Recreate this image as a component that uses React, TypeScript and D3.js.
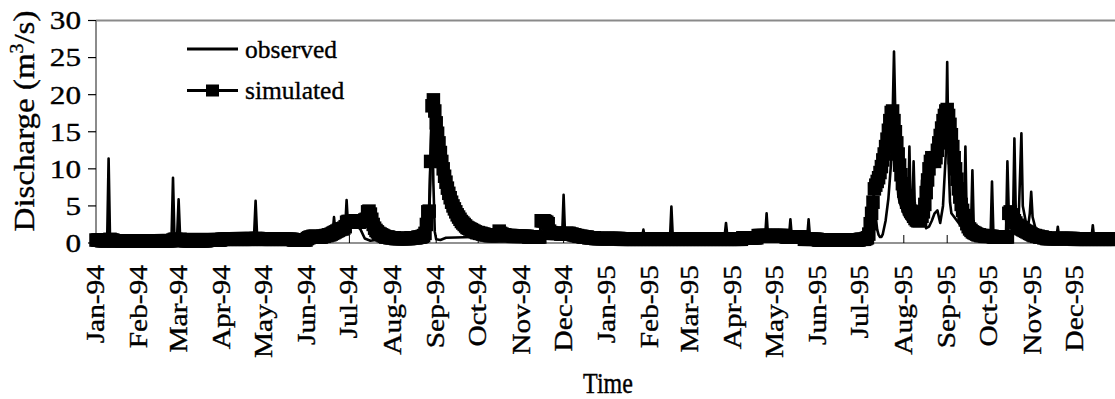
import * as d3 from "d3";

// simulated discharge, one value per day (m3/s)
const sim1994 = [
  0.4, 0.4, 0.4, 0.4, 0.3, 0.3, 0.3, 0.3, 0.3, 0.4,
  0.5, 0.4, 0.4, 0.3, 0.3, 0.3, 0.3, 0.3, 0.3, 0.3,
  0.3, 0.3, 0.3, 0.3, 0.3, 0.3, 0.3, 0.3, 0.3, 0.3,
  0.3, 0.3, 0.3, 0.3, 0.3, 0.3, 0.3, 0.3, 0.3, 0.3,
  0.3, 0.3, 0.3, 0.3, 0.3, 0.3, 0.3, 0.3, 0.3, 0.3,
  0.3, 0.3, 0.3, 0.3, 0.3, 0.4, 0.5, 0.5, 0.4, 0.4,
  0.5, 0.4, 0.4, 0.3, 0.3, 0.3, 0.3, 0.3, 0.3, 0.3,
  0.3, 0.3, 0.3, 0.3, 0.3, 0.3, 0.3, 0.3, 0.3, 0.3,
  0.4, 0.4, 0.4, 0.4, 0.4, 0.4, 0.4, 0.4, 0.4, 0.4,
  0.5, 0.5, 0.5, 0.5, 0.5, 0.5, 0.5, 0.5, 0.5, 0.5,
  0.5, 0.5, 0.5, 0.5, 0.5, 0.5, 0.5, 0.5, 0.5, 0.5,
  0.5, 0.5, 0.5, 0.5, 0.6, 0.6, 0.6, 0.5, 0.5, 0.5,
  0.5, 0.5, 0.5, 0.5, 0.5, 0.5, 0.5, 0.5, 0.5, 0.5,
  0.5, 0.5, 0.5, 0.5, 0.5, 0.5, 0.5, 0.5, 0.5, 0.5,
  0.5, 0.4, 0.4, 0.4, 0.4, 0.4, 0.4, 0.4, 0.4, 0.4,
  0.4, 0.6, 0.7, 0.8, 0.8, 0.9, 0.9, 0.9, 0.8, 0.8,
  0.8, 0.8, 0.9, 0.9, 1.0, 1.0, 1.1, 1.1, 1.2, 1.3,
  1.4, 1.5, 1.6, 1.7, 1.8, 1.9, 1.9, 2.0, 2.2, 2.8,
  2.9, 2.9, 2.8, 2.8, 2.9, 3.0, 2.9, 2.8, 2.8, 2.9,
  3.0, 3.0, 3.1, 3.2, 4.2, 4.3, 3.9, 3.2, 2.5, 2.0,
  1.7, 1.5, 1.3, 1.2, 1.1, 1.0, 0.9, 0.8, 0.8, 0.8,
  0.7, 0.7, 0.7, 0.7, 0.6, 0.6, 0.6, 0.6, 0.6, 0.6,
  0.6, 0.6, 0.6, 0.6, 0.6, 0.7, 0.7, 0.7, 0.7, 0.7,
  0.8, 0.8, 0.8, 0.9, 1.0, 1.3, 2.5, 4.2, 4.3, 11.0,
  18.5, 19.3, 17.8, 16.2, 14.8, 13.5, 12.2, 11.0, 10.0, 9.0,
  8.2, 7.4, 6.7, 6.1, 5.5, 5.0, 4.6, 4.2, 3.8, 3.5,
  3.2, 2.9, 2.7, 2.5, 2.3, 2.1, 2.0, 1.9, 1.8, 1.7,
  1.6, 1.5, 1.4, 1.4, 1.3, 1.3, 1.2, 1.2, 1.1, 1.1,
  1.1, 1.0, 1.0, 1.0, 1.0, 1.0, 1.0, 1.0, 1.6, 1.3,
  1.2, 1.1, 1.1, 1.0, 1.0, 1.0, 1.0, 1.0, 0.9, 0.9,
  0.9, 0.9, 0.9, 0.9, 0.9, 0.9, 0.9, 0.9, 0.9, 0.8,
  0.8, 0.8, 0.8, 0.8, 0.8, 0.8, 0.8, 0.8, 3.0, 3.0,
  3.0, 2.9, 2.8, 2.6, 1.6, 1.4, 1.3, 1.3, 1.3, 1.3,
  1.3, 1.3, 1.2, 1.2, 1.2, 1.2, 1.3, 1.3, 1.3, 1.2,
  1.2, 1.1, 1.1, 1.0, 1.0, 0.9, 0.9, 0.9, 0.8, 0.8,
  0.8, 0.8, 0.7, 0.7, 0.7, 0.7, 0.7, 0.6, 0.6, 0.6,
  0.6, 0.6, 0.6, 0.6, 0.6,
];

const sim1995 = [
  0.6, 0.6, 0.6, 0.6, 0.6, 0.6, 0.6, 0.6, 0.6, 0.6,
  0.5, 0.5, 0.5, 0.5, 0.5, 0.5, 0.5, 0.5, 0.5, 0.5,
  0.5, 0.5, 0.5, 0.5, 0.5, 0.5, 0.5, 0.5, 0.5, 0.5,
  0.5, 0.5, 0.5, 0.5, 0.5, 0.5, 0.5, 0.5, 0.5, 0.5,
  0.5, 0.5, 0.5, 0.5, 0.5, 0.5, 0.5, 0.5, 0.5, 0.5,
  0.5, 0.5, 0.5, 0.5, 0.5, 0.5, 0.5, 0.5, 0.5, 0.5,
  0.5, 0.5, 0.5, 0.5, 0.5, 0.5, 0.5, 0.5, 0.5, 0.5,
  0.5, 0.5, 0.5, 0.5, 0.5, 0.5, 0.5, 0.5, 0.5, 0.5,
  0.5, 0.5, 0.5, 0.5, 0.5, 0.5, 0.5, 0.5, 0.5, 0.5,
  0.5, 0.5, 0.5, 0.5, 0.5, 0.5, 0.5, 0.7, 0.7, 0.7,
  0.7, 0.7, 0.7, 0.7, 0.7, 0.7, 0.7, 0.7, 1.0, 1.0,
  1.0, 1.0, 1.0, 1.0, 1.0, 1.0, 1.0, 1.0, 1.0, 1.0,
  1.0, 1.0, 1.0, 1.0, 1.0, 1.0, 1.0, 1.0, 0.8, 0.8,
  0.8, 0.8, 0.8, 0.8, 0.8, 0.8, 0.8, 0.8, 0.8, 0.8,
  0.8, 0.5, 0.5, 0.5, 0.5, 0.5, 0.5, 0.5, 0.5, 0.5,
  0.5, 0.4, 0.4, 0.4, 0.4, 0.4, 0.4, 0.4, 0.4, 0.4,
  0.4, 0.4, 0.4, 0.4, 0.4, 0.4, 0.4, 0.4, 0.4, 0.4,
  0.4, 0.4, 0.4, 0.4, 0.4, 0.4, 0.4, 0.4, 0.4, 0.4,
  0.4, 0.5, 0.5, 0.5, 0.5, 0.6, 0.7, 1.2, 2.6, 4.0,
  5.5, 7.3, 7.8, 8.3, 8.8, 9.5, 10.3, 11.2, 12.0, 13.0,
  14.0, 15.2, 16.5, 17.6, 17.8, 16.5, 15.0, 13.5, 12.0, 10.5,
  9.2, 8.0, 7.0, 6.2, 5.5, 5.0, 4.6, 4.3, 4.0, 3.6,
  3.3, 3.1, 3.0, 3.0, 3.2, 3.6, 4.2, 5.2, 6.8, 8.5,
  10.0, 11.0, 11.5, 11.2, 11.0, 11.5, 12.5, 13.5, 14.5, 15.5,
  16.5, 17.2, 17.8, 18.0, 17.2, 16.0, 14.6, 13.0, 11.5, 10.0,
  8.6, 7.3, 6.2, 5.2, 4.4, 3.7, 3.1, 2.6, 2.2, 1.9,
  1.7, 1.5, 1.4, 1.3, 1.2, 1.1, 1.1, 1.0, 1.0, 1.0,
  0.9, 0.9, 0.9, 0.9, 0.9, 0.9, 0.8, 0.8, 0.8, 0.8,
  0.8, 0.8, 0.8, 0.8, 0.8, 0.8, 0.8, 4.0, 4.2, 3.8,
  3.4, 3.0, 2.7, 2.4, 2.2, 2.0, 1.9, 1.8, 1.7, 1.6,
  1.5, 1.4, 1.3, 1.2, 1.1, 1.0, 1.0, 0.9, 0.9, 0.8,
  0.8, 0.8, 0.7, 0.7, 0.6, 0.6, 0.6, 0.6, 0.6, 0.6,
  0.6, 0.6, 0.6, 0.6, 0.6, 0.6, 0.6, 0.6, 0.6, 0.6,
  0.6, 0.6, 0.6, 0.6, 0.5, 0.5, 0.5, 0.5, 0.5, 0.5,
  0.5, 0.5, 0.5, 0.5, 0.5, 0.5, 0.5, 0.5, 0.5, 0.5,
  0.5, 0.5, 0.5, 0.5, 0.5, 0.5, 0.5, 0.5, 0.5, 0.5,
  0.5, 0.5, 0.5, 0.5, 0.5,
];

// observed discharge, [day of year, value] at the turning points of the record
const obs1994: [number, number][] = [
  [0, 0.6], [8, 0.6], [9, 11.4], [10, 0.8], [20, 0.7], [35, 1.0], [54, 1.1],
  [55, 8.8], [56, 1.1], [58, 1.2], [59, 5.9], [60, 1.2], [80, 1.2], [95, 1.3],
  [113, 1.4], [114, 5.7], [115, 1.3], [140, 1.1], [150, 0.8], [160, 1.0],
  [169, 1.2], [170, 3.5], [171, 1.5], [176, 1.8], [178, 2.0], [179, 5.8],
  [180, 2.4], [185, 2.6], [189, 1.8], [192, 0.6], [196, 0.3], [200, 0.4],
  [205, 0.8], [215, 0.9], [232, 0.8], [236, 0.7], [237, 0.9], [238, 2.5],
  [239, 12.0], [240, 19.0], [241, 8.0], [242, 1.5], [243, 0.5], [246, 0.4],
  [250, 0.7], [270, 0.8], [290, 1.0], [300, 1.0], [320, 1.0], [324, 1.2],
  [325, 3.5], [326, 1.3], [333, 1.2], [334, 6.5], [335, 1.3], [350, 1.0],
  [364, 0.8],
];

const obs1995: [number, number][] = [
  [0, 0.8], [25, 0.8], [26, 1.8], [27, 0.8], [45, 0.7], [46, 4.9], [47, 0.8],
  [84, 0.9], [85, 2.7], [86, 0.9], [113, 0.9], [114, 4.0], [115, 1.0],
  [130, 0.9], [131, 3.2], [132, 0.9], [143, 0.8], [144, 3.2], [145, 0.8],
  [165, 0.6], [185, 0.5], [188, 0.6], [190, 3.0], [191, 6.2], [192, 3.5],
  [193, 1.8], [194, 1.1], [195, 0.8], [196, 0.8], [197, 1.2], [199, 3.0],
  [201, 6.0], [203, 11.0], [204, 17.0], [205, 25.8], [206, 17.0], [207, 10.0],
  [208, 6.5], [209, 5.5], [211, 4.5], [213, 3.5], [215, 3.0], [216, 13.0],
  [217, 4.0], [218, 3.2], [219, 11.0], [220, 4.0], [221, 3.0], [223, 2.4],
  [224, 3.0], [225, 8.5], [226, 3.0], [228, 2.0], [230, 2.2], [232, 3.0],
  [234, 4.0], [236, 4.4], [238, 2.7], [240, 5.0], [242, 12.0], [243, 24.4],
  [244, 11.0], [245, 5.5], [246, 4.0], [248, 3.5], [250, 3.0], [252, 2.5],
  [255, 2.2], [256, 13.0], [257, 2.5], [259, 2.0], [260, 2.0], [261, 9.8],
  [262, 2.0], [265, 1.5], [270, 1.2], [274, 1.2], [275, 8.3], [276, 1.3],
  [280, 1.0], [285, 1.2], [286, 11.0], [287, 4.0], [288, 2.5], [290, 3.0],
  [291, 14.1], [292, 4.0], [294, 3.0], [296, 14.8], [297, 5.0], [299, 3.0],
  [301, 2.5], [302, 4.0], [303, 6.9], [304, 3.5], [306, 2.0], [310, 1.2],
  [315, 0.8], [321, 0.7], [322, 2.2], [323, 0.7], [335, 0.6], [346, 0.6],
  [347, 2.4], [348, 0.6], [364, 0.5],
];

const yTicks = [0, 5, 10, 15, 20, 25, 30];
const legendLabels = ["observed", "simulated"];
const yTitle = "Discharge (m";
const xTitle = "Time";

const W = 1115;
const H = 399;
const FONT = "'Liberation Serif', 'Times New Roman', Times, serif";

const start = new Date(Date.UTC(1994, 0, 1));
const end = new Date(Date.UTC(1996, 0, 1));
const y1995 = new Date(Date.UTC(1995, 0, 1));

type Pt = { date: Date; v: number };

const simulated: Pt[] = [
  ...sim1994.map((v, i) => ({ date: d3.utcDay.offset(start, i), v })),
  ...sim1995.map((v, i) => ({ date: d3.utcDay.offset(y1995, i), v })),
];
const observed: Pt[] = [
  ...obs1994.map(([d, v]) => ({ date: d3.utcDay.offset(start, d), v })),
  ...obs1995.map(([d, v]) => ({ date: d3.utcDay.offset(y1995, d), v })),
];

export default function App() {
  const x = d3.scaleTime().domain([start, end]).range([96, 1118]);
  const y = d3.scaleLinear().domain([0, 30]).range([243, 20.5]);
  const months = d3.utcMonth.range(start, end);
  const fmt = d3.utcFormat("%b-%y");

  const line = d3
    .line<Pt>()
    .x((d) => x(d.date))
    .y((d) => y(d.v));

  const mw = 13.5;
  const mh = 13.5;

  // text is a touch heavier in the original
  const ink = { fill: "#000", stroke: "#000", strokeWidth: 0.35 };

  return (
    <svg
      width={W}
      height={H}
      viewBox={`0 0 ${W} ${H}`}
      style={{ position: "absolute", left: 0, top: 0, background: "#fff" }}
      fontFamily={FONT}
    >
      {/* plot frame */}
      <line x1={96} x2={1118} y1={20.5} y2={20.5} stroke="#8a8a8a" strokeWidth={2} />
      <line x1={96} x2={96} y1={20.5} y2={243} stroke="#6e6e6e" strokeWidth={1.6} />
      <line x1={96} x2={1118} y1={243} y2={243} stroke="#6e6e6e" strokeWidth={1.6} />

      {/* y axis */}
      {yTicks.map((t) => (
        <g key={t}>
          <line x1={88} x2={96} y1={y(t)} y2={y(t)} stroke="#000" strokeWidth={1.2} />
          <text
            transform={`translate(81,${y(t)}) scale(1.2,1)`}
            dy="0.34em"
            textAnchor="end"
            fontSize={26}
            {...ink}
          >
            {t}
          </text>
        </g>
      ))}

      {/* x axis */}
      {months.map((m) => (
        <g key={+m}>
          <line x1={x(m)} x2={x(m)} y1={235} y2={243} stroke="#000" strokeWidth={1} />
          <text
            transform={`translate(${x(m)},265) rotate(-90) scale(1.2,1)`}
            dy="0.33em"
            textAnchor="end"
            fontSize={24.5}
            {...ink}
          >
            {fmt(m)}
          </text>
        </g>
      ))}

      {/* series */}
      <path d={line(simulated) ?? ""} fill="none" stroke="#000" strokeWidth={3} />
      <g fill="#000">
        {simulated.map((d, i) => (
          <rect key={i} x={x(d.date) - mw / 2} y={y(d.v) - mh / 2} width={mw} height={mh} />
        ))}
      </g>
      <path
        d={line(observed) ?? ""}
        fill="none"
        stroke="#000"
        strokeWidth={2.6}
        strokeLinejoin="round"
      />

      {/* legend */}
      <line x1={187} x2={238} y1={49} y2={49} stroke="#000" strokeWidth={2.8} />
      <text x={245} y={58} fontSize={25.5} {...ink}>
        {legendLabels[0]}
      </text>
      <line x1={187} x2={238} y1={90.5} y2={90.5} stroke="#000" strokeWidth={2.8} />
      <rect x={212.5 - 6.5} y={90.5 - 6} width={13} height={12} fill="#000" />
      <text x={245} y={98.5} fontSize={25.5} {...ink}>
        {legendLabels[1]}
      </text>

      {/* axis titles */}
      <text
        transform="translate(33.5,121) rotate(-90) scale(1.1,1)"
        textAnchor="middle"
        fontSize={30}
        {...ink}
      >
        {yTitle}
        <tspan fontSize={18} dy={-11}>
          3
        </tspan>
        <tspan dy={11}>/s)</tspan>
      </text>
      <text
        transform="translate(608,393) scale(1,1.2)"
        textAnchor="middle"
        fontSize={24}
        {...ink}
      >
        {xTitle}
      </text>
    </svg>
  );
}
